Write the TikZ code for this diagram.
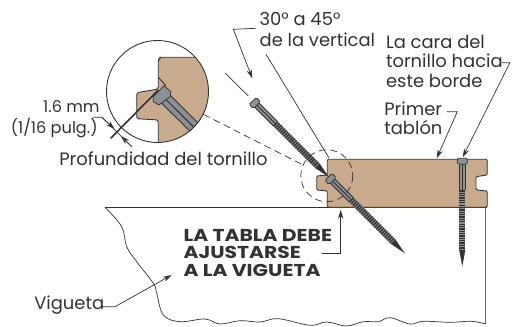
\documentclass[tikz,border=0pt]{standalone}
\usepackage{fontspec}
\setmainfont{Poppins}
\newfontfamily\gruesa[FakeStretch=1.18]{Poppins}
\usetikzlibrary{arrows.meta}
\definecolor{tabla}{RGB}{200,170,140}
\definecolor{acero}{RGB}{140,143,148}
\definecolor{oscuro}{RGB}{50,50,52}
\tikzset{
  leader/.style={draw=oscuro, line width=0.4pt, -{Stealth[length=5pt,width=3pt]}},
  plain/.style={draw=oscuro, line width=0.4pt},
  label/.style={inner sep=0pt, text=oscuro, font=\fontsize{10.2}{12}\selectfont, anchor=west},
  small/.style={label, font=\fontsize{9.2}{12}\selectfont},
  bold/.style={inner sep=0pt, text=oscuro, font=\gruesa\fontsize{9.8}{10}\selectfont\bfseries, anchor=west}
}
% screw drawn downwards from its head, then turned
\newcommand{\tornillo}[3]{
  \begin{scope}[shift={(#1,#2)},rotate=#3]
    \fill [acero] (-3.2,5) rectangle (3.2,92);
    \draw [oscuro, line width=0.45pt] (-3,5) -- (-3,32) (3,5) -- (3,32) (0,5) -- (0,32);
    \draw [oscuro, line width=3.6pt, dash pattern=on 0.75pt off 0.6pt] (0,32) -- (0,92);
    \fill [oscuro] (-3,92) -- (0,108) -- (3,92) -- cycle;
    \filldraw [fill=acero, draw=oscuro, line width=0.4pt]
      (-5,1.5) -- (-4,0) -- (4,0) -- (5,1.5) -- (5,4.5) -- (3,6) -- (-3,6) -- (-5,4.5) -- cycle;
  \end{scope}
}
\begin{document}
\begin{tikzpicture}[x=0.02cm,y=-0.02cm]
    \useasboundingbox (0,0) rectangle (512,327);
    % joist
    \draw [oscuro, line width=0.6pt] (105,207.3) -- (487,207.3);
    \draw [oscuro!70, line width=0.6pt] (485.7,207.3) -- (485.7,324);
    \draw [oscuro, line width=0.4pt] plot [smooth, tension=0.6] coordinates {(105,207.3) (121.7,226.7) (126.7,246.7) (136.7,261.7) (153.3,283.3) (156.7,293) (163.3,315) (180,321.7) (205,319) (220,324) (240,320.7) (260,322) (278.3,318.7) (310,325.3) (326.7,322) (346.7,326) (363.3,321.7) (378.3,321.7) (390,317.7) (410,324) (423.3,321.3) (450,322.3) (471.7,321.3) (485.7,324)};
    % first board
    \filldraw [fill=tabla, draw=oscuro, line width=0.5pt, rounded corners=0.7pt]
      (327.3,207.3) -- (327.3,191) -- (316.7,190) -- (316.7,176) -- (327.3,175) -- (327.3,159.3)
      -- (487.3,159.3) -- (487.3,175) -- (476,176.7) -- (476,190) -- (487.3,191) -- (487.3,207.3) -- cycle;
    % screws
    \tornillo{252.7}{101}{45}
    \tornillo{328.5}{177}{45}
    \tornillo{462.3}{158.3}{0}
    % detail
    \coordinate (lupaC) at (157.5,91.5);
    \coordinate (marcaC) at (326.8,175.7);
    \begin{scope}
      \clip (lupaC) circle [radius=51];
      \fill [white] (lupaC) circle [radius=51];
      \filldraw [fill=tabla, draw=oscuro, line width=0.5pt, rounded corners=1pt]
        (158.3,150) -- (158.3,120) -- (136.7,118.7) -- (136.7,92.7) -- (158.3,89)
        -- (158.3,60) -- (160,57.3) -- (220,57.3) -- (220,150) -- cycle;
      \draw [oscuro, line width=0.5pt] (158.3,77.3) -- (166,85.7);
      \filldraw [fill=acero, draw=oscuro, line width=0.5pt] (161.7,103.3) -- (170,95) -- (205,130) -- (197,138) -- cycle;
      \draw [oscuro, line width=0.5pt] (165.8,99.2) -- (201,134.3) (169,102.4) -- (199,132.5);
      \filldraw [fill=acero, draw=oscuro, line width=0.4pt] (153.3,96.7) -- (164,85.7) -- (171,91.7) -- (170,96.7) -- (159,105) -- (153.3,101.7) -- cycle;
    \end{scope}
    \draw [oscuro, line width=0.5pt] (lupaC) circle [radius=51];
    \draw [oscuro, line width=0.4pt, dash pattern=on 4pt off 2.5pt] (marcaC) circle [radius=26];
    \coordinate (lupaB) at (203.3,114.3);
    \coordinate (marcaB) at (303,165);
    \draw [plain, dash pattern=on 4pt off 2.5pt] (lupaB) -- (marcaB);
    % depth mark
    \coordinate (hondoA) at (110.7,138.3);
    \coordinate (hondoB) at (158.3,90);
    \draw [oscuro, line width=0.9pt] (hondoA) -- (hondoB);
    \coordinate (cotaA) at (93,117.3);
    \coordinate (cotaB) at (102,117.3);
    \coordinate (cotaC) at (132,147);
    \coordinate (cotaD) at (114.5,129);
    \coordinate (cotaE) at (121,136);
    \draw [plain] (cotaA) -- (cotaB) -- (cotaC);
    \draw [-{Stealth[length=5pt,width=3pt]}, oscuro, line width=0.4pt] (cotaB) -- (cotaD);
    \draw [-{Stealth[length=5pt,width=3pt]}, oscuro, line width=0.4pt] (cotaC) -- (cotaE);
    % guide lines
    \coordinate (ejeA) at (225.3,73.3);
    \coordinate (ejeB) at (248.3,96);
    \draw [plain] (ejeA) -- (ejeB);
    % labels
    \node [label] (angulo) at (259.3,19) {30° a 45°};
    \node [label] (vertical) at (259.3,40) {de la vertical};
    \node [label] (cara) at (385.7,41.7) {La cara del};
    \node [label] (hacia) at (385.7,60.7) {tornillo hacia};
    \node [label] (borde) at (385.7,81) {este borde};
    \node [label] (primer) at (384,109) {Primer};
    \node [label] (tablon) at (384,128) {tablón};
    \node [small, anchor=east] (medida) at (100,107) {1.6 mm};
    \node [small, anchor=east] (pulgada) at (98,128) {(1/16 pulg.)};
    \node [label] (profundidad) at (59,159) {Profundidad del tornillo};
    \node [label] (vigueta) at (34,305) {Vigueta};
    \node [bold] (tablaA) at (183.3,235) {LA TABLA DEBE};
    \node [bold] (tablaB) at (183.3,252.7) {AJUSTARSE};
    \node [bold] (tablaC) at (183.3,270) {A LA VIGUETA};
    % leaders
    \coordinate (anguloA) at (256,28.3);
    \coordinate (anguloB) at (233.3,29.3);
    \coordinate (anguloC) at (252.3,78.3);
    \draw [leader] (anguloA) -- (anguloB) -- (anguloC);
    \coordinate (verticalA) at (266,54.3);
    \coordinate (verticalB) at (329,158);
    \draw [plain] (verticalA) -- (verticalB);
    \coordinate (caraA) at (501.7,62.7);
    \coordinate (caraB) at (510,62.7);
    \coordinate (caraC) at (462.7,157.3);
    \draw [leader] (caraA) -- (caraB) -- (caraC);
    \coordinate (primerA) at (446.7,111.7);
    \coordinate (primerB) at (457.3,111.7);
    \coordinate (primerC) at (436.7,158.3);
    \draw [leader] (primerA) -- (primerB) -- (primerC);
    \coordinate (viguetaA) at (101.7,306.7);
    \coordinate (viguetaB) at (115,306.7);
    \coordinate (viguetaC) at (171.7,275);
    \draw [leader] (viguetaA) -- (viguetaB) -- (viguetaC);
    \coordinate (ajusteA) at (321.7,253.3);
    \coordinate (ajusteB) at (340.7,253.3);
    \coordinate (ajusteC) at (340.7,210);
    \draw [leader] (ajusteA) -- (ajusteB) -- (ajusteC);
\end{tikzpicture}
\end{document}
